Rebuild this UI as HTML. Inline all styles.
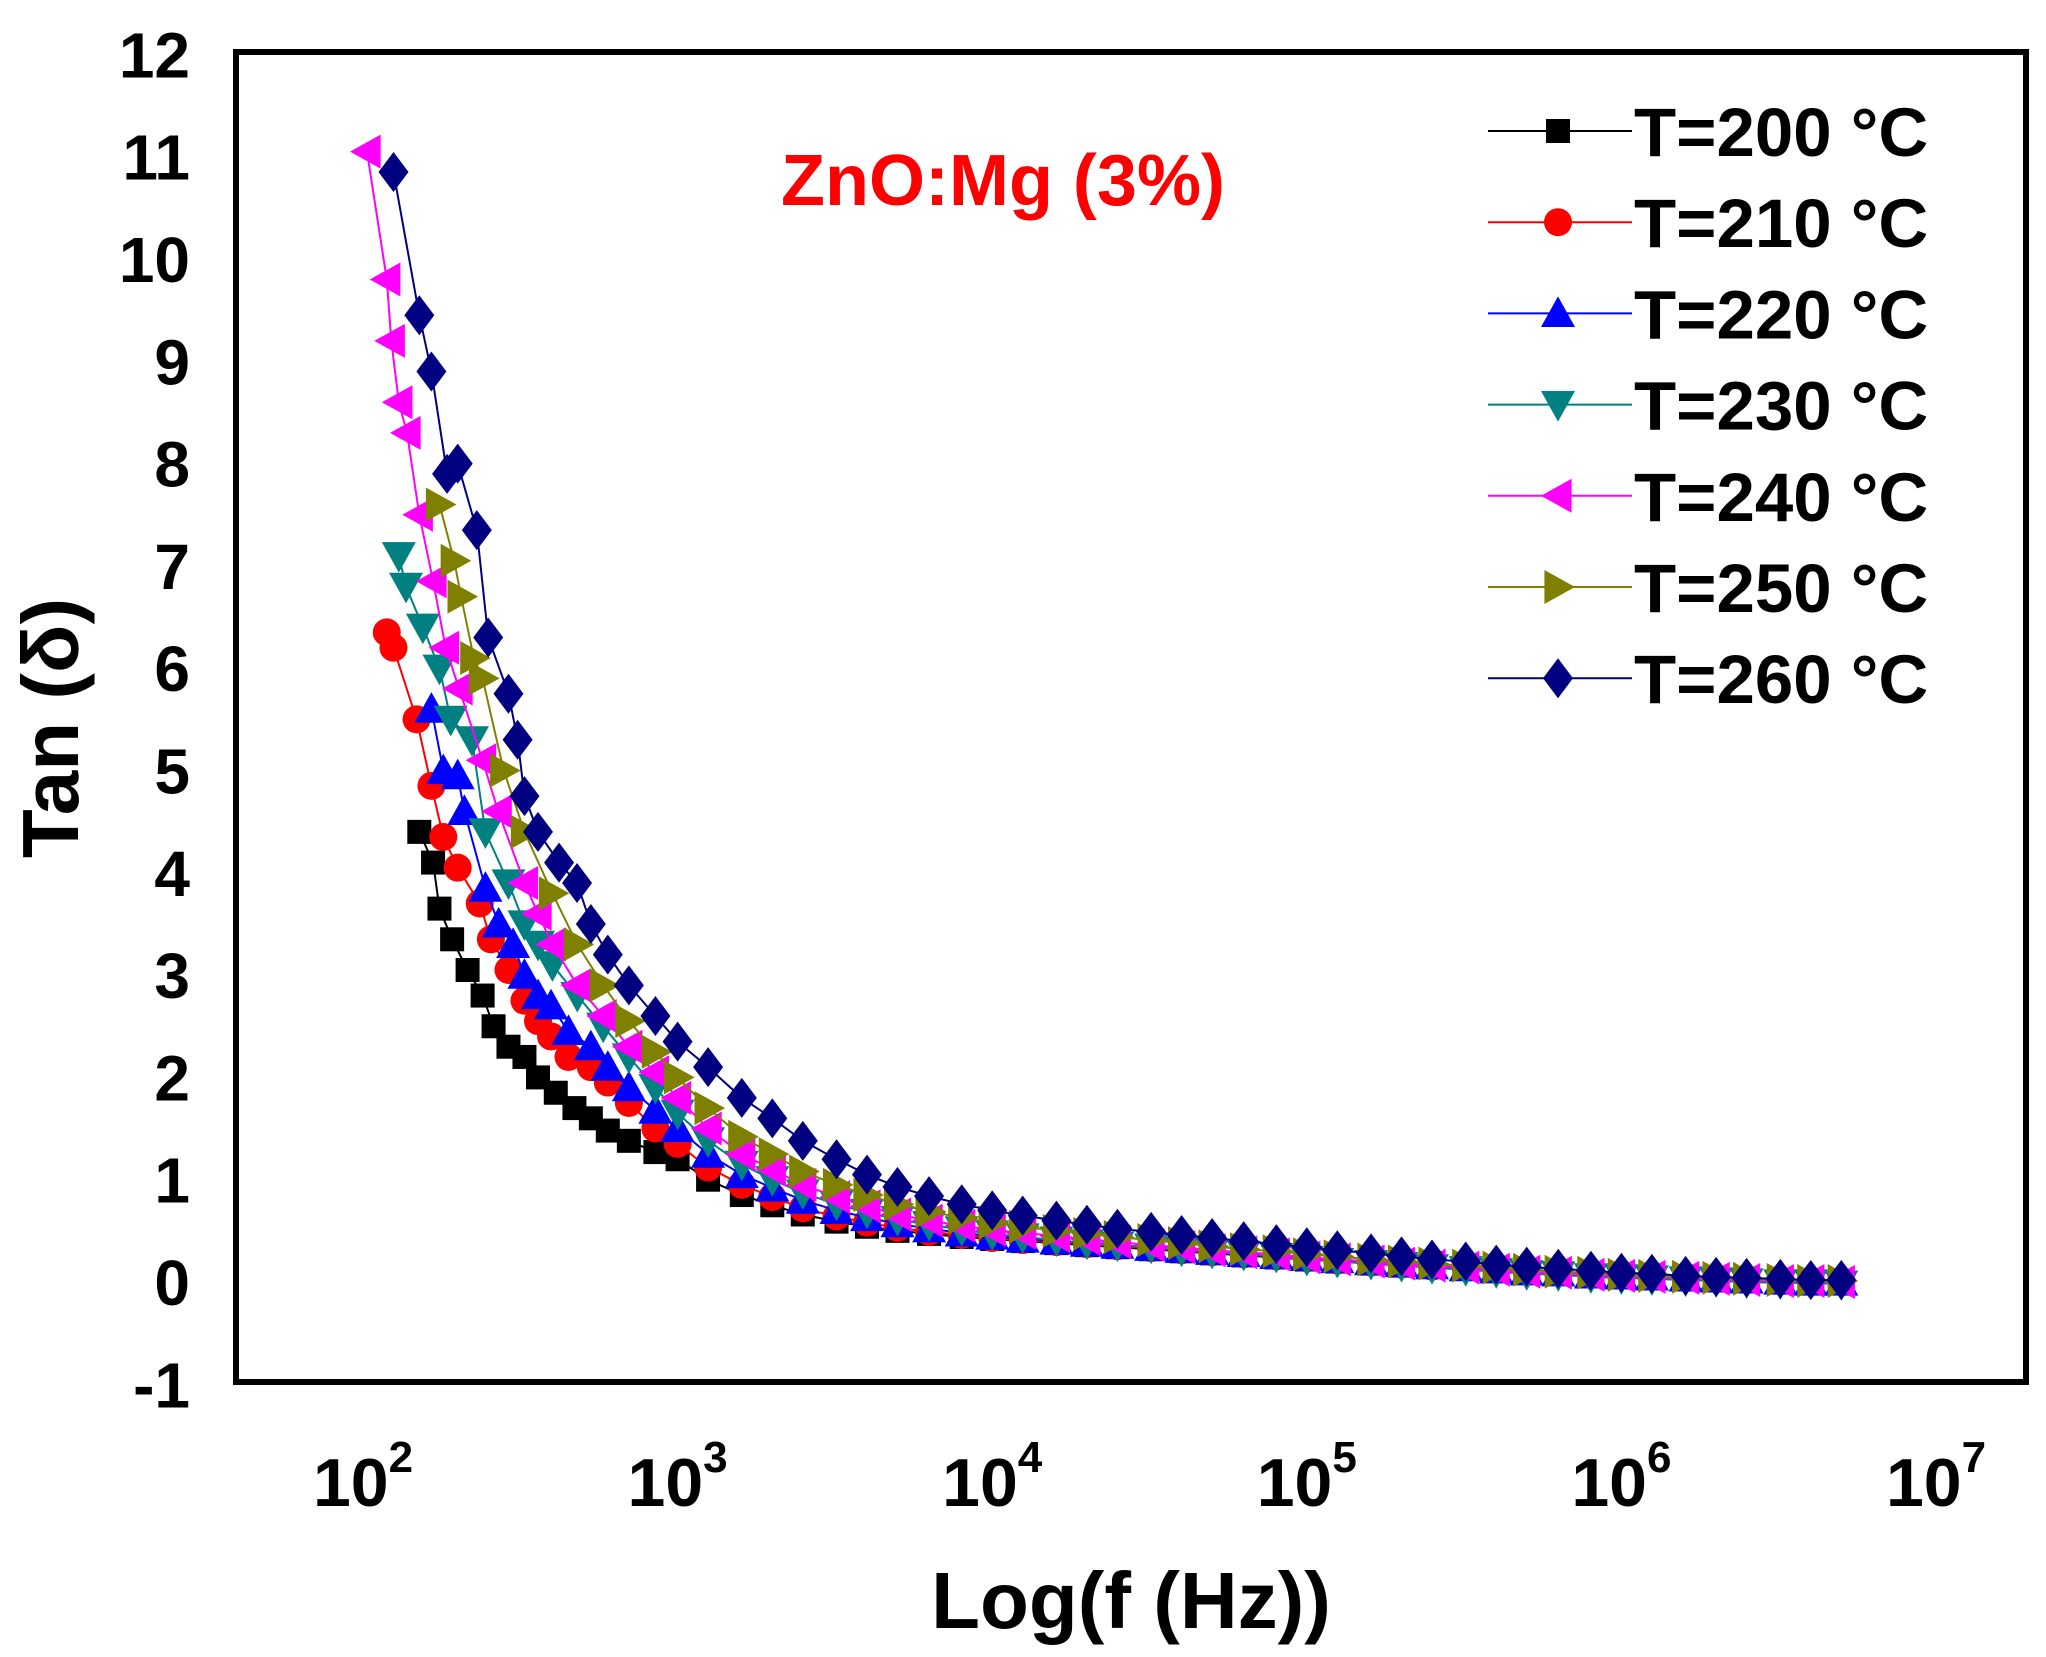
<!DOCTYPE html>
<html><head><meta charset="utf-8"><style>
html,body{margin:0;padding:0;background:#fff;}
svg{display:block;font-family:"Liberation Sans",Arial,sans-serif;font-weight:bold;}
</style></head><body>
<svg id="chart" width="2046" height="1657" viewBox="0 0 2046 1657" xmlns="http://www.w3.org/2000/svg">
<rect x="0" y="0" width="2046" height="1657" fill="#fff"/>
<g id="marks"></g>
<rect x="236" y="52" width="1790" height="1330" fill="none" stroke="#000" stroke-width="6"/>
<g id="yticks"></g>
<g id="xticks"></g>
<text x="1131" y="1628" font-size="80" text-anchor="middle">Log(f (Hz))</text>
<text transform="translate(78,728) rotate(-90)" font-size="80" text-anchor="middle">Tan (δ)</text>
<text x="1003" y="205" font-size="72" fill="#ff0000" text-anchor="middle">ZnO:Mg (3%)</text>
<g id="legend"></g>
</svg>
<script>
const seriesNames = ["T=200 °C","T=210 °C","T=220 °C","T=230 °C","T=240 °C","T=250 °C","T=260 °C"];
const yTicks = [-1,0,1,2,3,4,5,6,7,8,9,10,11,12];
const xTickExp = [2,3,4,5,6,7];
const tailF = [1000,1250,1600,2000,2500,3200,4000,5000,6300,8000,10000,12500,16000,20000,25000,32000,40000,50000,63000,80000,100000,125000,160000,200000,250000,320000,400000,500000,630000,800000,1000000,1250000,1600000,2000000,2500000,3200000,4000000,5000000];
const f200 = [151,167,175,192,215,240,260,290,326,360,410,470,530,600,700,850];
const v200 = [4.4,4.1,3.65,3.35,3.05,2.8,2.5,2.3,2.2,2.0,1.85,1.7,1.6,1.48,1.38,1.27];
const t200 = [1.2,1.0,0.85,0.75,0.66,0.59,0.54,0.5,0.47,0.44,0.42,0.4,0.38,0.36,0.34,0.32,0.3,0.28,0.26,0.24,0.22,0.2,0.18,0.16,0.15,0.13,0.12,0.1,0.09,0.08,0.06,0.05,0.04,0.03,0.03,0.02,0.01,0.01];
const f210 = [119,125,148,165,180,200,235,255,290,326,360,396,450,530,600,700,850];
const v210 = [6.35,6.2,5.5,4.85,4.35,4.05,3.7,3.35,3.05,2.75,2.55,2.4,2.2,2.1,1.95,1.75,1.5];
const t210 = [1.35,1.12,0.95,0.83,0.72,0.64,0.58,0.53,0.49,0.46,0.43,0.41,0.39,0.37,0.35,0.33,0.31,0.29,0.27,0.25,0.23,0.21,0.19,0.17,0.15,0.14,0.12,0.1,0.09,0.08,0.06,0.05,0.04,0.03,0.03,0.02,0.01,0.0];
const f220 = [165,180,200,210,245,270,300,326,360,396,450,530,600,700,850];
const v220 = [5.6,5.0,4.95,4.6,3.85,3.5,3.3,3.0,2.8,2.7,2.45,2.3,2.1,1.9,1.68];
const t220 = [1.5,1.25,1.05,0.92,0.8,0.7,0.63,0.57,0.52,0.48,0.45,0.42,0.4,0.38,0.36,0.34,0.32,0.3,0.28,0.26,0.24,0.22,0.2,0.18,0.16,0.14,0.12,0.1,0.09,0.07,0.06,0.05,0.04,0.03,0.02,0.01,0.0,0.0];
const f230 = [130,137,155,175,190,222,245,290,326,360,400,480,580,700,850];
const v230 = [7.1,6.8,6.4,6.0,5.5,5.3,4.4,3.9,3.5,3.3,3.1,2.8,2.5,2.2,1.9];
const t230 = [1.65,1.38,1.15,1.0,0.87,0.76,0.68,0.61,0.56,0.51,0.47,0.44,0.41,0.38,0.36,0.34,0.31,0.29,0.27,0.25,0.22,0.2,0.18,0.16,0.14,0.12,0.1,0.08,0.07,0.05,0.04,0.03,0.02,0.01,0.0,-0.01,-0.01,-0.02];
const f240 = [103,119,123,130,138,151,167,183,202,240,269,326,360,400,480,580,700,850];
const v240 = [11.05,9.8,9.2,8.6,8.3,7.5,6.85,6.2,5.8,5.1,4.6,3.9,3.6,3.3,2.9,2.6,2.3,2.05];
const t240 = [1.8,1.5,1.25,1.1,0.95,0.83,0.74,0.66,0.6,0.55,0.51,0.48,0.45,0.42,0.39,0.36,0.34,0.31,0.29,0.27,0.24,0.22,0.2,0.18,0.16,0.14,0.12,0.1,0.09,0.07,0.06,0.05,0.04,0.03,0.02,0.01,0.01,0.0];
const f250 = [175,195,205,225,240,280,326,400,480,580,700,850];
const v250 = [7.6,7.05,6.7,6.1,5.9,5.0,4.4,3.8,3.3,2.9,2.55,2.25];
const t250 = [2.0,1.7,1.42,1.25,1.08,0.95,0.85,0.76,0.69,0.63,0.58,0.54,0.5,0.47,0.44,0.41,0.38,0.35,0.32,0.3,0.27,0.25,0.22,0.2,0.18,0.16,0.14,0.12,0.1,0.09,0.07,0.06,0.05,0.04,0.03,0.02,0.01,0.01];
const f260 = [125,151,165,185,200,230,250,290,310,326,360,420,479,530,600,700,850];
const v260 = [10.85,9.45,8.9,7.9,8.0,7.35,6.3,5.75,5.3,4.75,4.4,4.1,3.9,3.5,3.2,2.9,2.6];
const t260 = [2.35,2.1,1.8,1.6,1.38,1.2,1.05,0.93,0.84,0.76,0.7,0.65,0.6,0.56,0.52,0.49,0.46,0.43,0.4,0.37,0.34,0.31,0.28,0.25,0.22,0.2,0.17,0.15,0.13,0.11,0.09,0.08,0.06,0.05,0.04,0.03,0.02,0.02];

const NS = "http://www.w3.org/2000/svg";
const X0 = 363, DEC = 314.6, Y0 = 1282, UNIT = 102.3;
function xScale(f){ return X0 + (Math.log10(f) - 2) * DEC; }
function yScale(v){ return Y0 - v * UNIT; }
function mk(tag, attrs){ const e = document.createElementNS(NS, tag); for (const k in attrs) e.setAttribute(k, attrs[k]); return e; }

const colors = ["#000000","#ff0000","#0000ff","#008080","#ff00ff","#808000","#000080"];
const shapes = ["square","circle","up","down","left","right","diamond"];
const lowF = [f200,f210,f220,f230,f240,f250,f260];
const lowV = [v200,v210,v220,v230,v240,v250,v260];
const tailV = [t200,t210,t220,t230,t240,t250,t260];

function marker(shape, cx, cy, color){
  let e;
  if (shape === "square") e = mk("rect", {x:cx-12, y:cy-12, width:24, height:24});
  else if (shape === "circle") e = mk("circle", {cx:cx, cy:cy, r:14});
  else {
    let p;
    const s = 17;
    if (shape === "up") p = [[cx,cy-s],[cx+s,cy+s*0.8],[cx-s,cy+s*0.8]];
    else if (shape === "down") p = [[cx,cy+s],[cx+s,cy-s*0.8],[cx-s,cy-s*0.8]];
    else if (shape === "left") p = [[cx-s,cy],[cx+s*0.8,cy-s],[cx+s*0.8,cy+s]];
    else if (shape === "right") p = [[cx+s,cy],[cx-s*0.8,cy-s],[cx-s*0.8,cy+s]];
    else p = [[cx,cy-20],[cx+15,cy],[cx,cy+20],[cx-15,cy]];
    e = mk("polygon", {points:p.map(q=>q.join(",")).join(" ")});
  }
  e.setAttribute("fill", color);
  return e;
}

const marks = document.getElementById("marks");
for (let s = 0; s < 7; s++){
  const fs = lowF[s].concat(tailF);
  const vs = lowV[s].concat(tailV[s]);
  const g = mk("g", {});
  
  
  const pts = fs.map((f,i)=>xScale(f).toFixed(1)+","+yScale(vs[i]).toFixed(1)).join(" ");
  const line = mk("polyline", {points:pts, fill:"none", stroke:colors[s], "stroke-width":2});
  
  
  g.appendChild(line);
  fs.forEach((f,i)=>{
    const m = marker(shapes[s], xScale(f), yScale(vs[i]), colors[s]);
    
    
    g.appendChild(m);
  });
  marks.appendChild(g);
}

const yt = document.getElementById("yticks");
yTicks.forEach(v=>{
  const t = mk("text", {x:190, y:yScale(v)+23, "font-size":64, "text-anchor":"end"});
  t.textContent = String(v);
  
  
  yt.appendChild(t);
});
const xt = document.getElementById("xticks");
xTickExp.forEach(e=>{
  const t = mk("text", {x:xScale(Math.pow(10,e)), y:1506, "font-size":68, "text-anchor":"middle"});
  t.textContent = "10";
  const sup = mk("tspan", {"font-size":44, dy:-34});
  sup.textContent = String(e);
  t.appendChild(sup);
  
  
  xt.appendChild(t);
});

const lg = document.getElementById("legend");
seriesNames.forEach((n,i)=>{
  const y = 131 + i * 91.2;
  const g = mk("g", {});
  
  
  g.appendChild(mk("line", {x1:1488, x2:1632, y1:y, y2:y, stroke:colors[i], "stroke-width":2}));
  g.appendChild(marker(shapes[i], 1558, y, colors[i]));
  const t = mk("text", {x:1634, y:y+25, "font-size":69});
  t.textContent = n;
  g.appendChild(t);
  lg.appendChild(g);
});
</script>
</body></html>
